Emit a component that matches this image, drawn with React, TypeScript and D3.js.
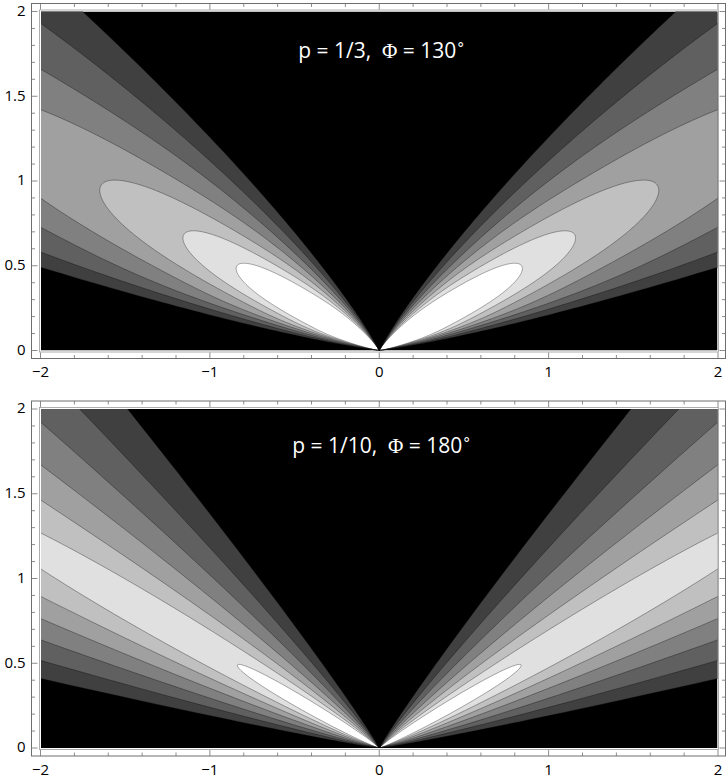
import React from "react";
import * as d3 from "d3";

const W = 727;
const H = 779;

// axes
const X_MAJOR = [-2, -1, 0, 1, 2];
const X_LABELS = ["\u22122", "\u22121", "0", "1", "2"];
const Y_MAJOR = [0, 0.5, 1, 1.5, 2];
const Y_LABELS = ["0", "0.5", "1", "1.5", "2"];
const X_MINOR_STEP = 0.2;
const Y_MINOR_STEP = 0.1;

// contour levels (lowest -> highest) and the band fill above each level
const LEVELS = [0.4, 0.5, 0.6, 0.7, 0.8, 0.9, 1.0];
const BAND_FILLS = ["#404040", "#606060", "#808080", "#a0a0a0", "#c0c0c0", "#e0e0e0", "#ffffff"];

// angular profile g(theta), theta measured from the horizontal axis (deg),
// read from where each contour meets the frame
const TOP_ANGLES = [0, 5, 10, 13.8, 16.2, 20, 24.2, 29.5, 35.4, 39.7, 44, 48.8, 55, 60, 65, 70, 80, 90];
const TOP_PROFILE = [0, 0.03, 0.3, 0.509, 0.638, 0.772, 0.909, 0.99, 0.944, 0.825, 0.703, 0.554, 0.36, 0.2, 0.05, 0, 0, 0];
const BOTTOM_ANGLES = [0, 5, 11.6, 14.5, 17.7, 20.9, 24.1, 27.9, 29.8, 32.4, 36.2, 39.9, 43.9, 48.5, 53.4, 60, 67, 75, 90];
const BOTTOM_PROFILE = [0.03, 0.2, 0.43, 0.538, 0.646, 0.755, 0.865, 0.977, 0.996, 0.981, 0.876, 0.77, 0.664, 0.552, 0.438, 0.29, 0.13, 0, 0];

// panel parameters
const P_VALUES = [1 / 3, 1 / 10];
const P_LABELS = ["1/3", "1/10"];
const PHI_LABELS = ["130", "180"];
const PANEL_OFFSETS = [0, 397.5];
const X_LABEL_BASELINES = [377.3, 775];

function naturalSpline(xs: number[], ys: number[]) {
  const n = xs.length;
  const a = ys.slice();
  const h: number[] = [];
  for (let i = 0; i < n - 1; i++) h.push(xs[i + 1] - xs[i]);
  const alpha = new Array(n).fill(0);
  for (let i = 1; i < n - 1; i++) {
    alpha[i] = (3 / h[i]) * (a[i + 1] - a[i]) - (3 / h[i - 1]) * (a[i] - a[i - 1]);
  }
  const l = new Array(n).fill(0);
  const mu = new Array(n).fill(0);
  const z = new Array(n).fill(0);
  l[0] = 1;
  for (let i = 1; i < n - 1; i++) {
    l[i] = 2 * (xs[i + 1] - xs[i - 1]) - h[i - 1] * mu[i - 1];
    mu[i] = h[i] / l[i];
    z[i] = (alpha[i] - h[i - 1] * z[i - 1]) / l[i];
  }
  l[n - 1] = 1;
  const c = new Array(n).fill(0);
  const b = new Array(n - 1).fill(0);
  const d = new Array(n - 1).fill(0);
  for (let j = n - 2; j >= 0; j--) {
    c[j] = z[j] - mu[j] * c[j + 1];
    b[j] = (a[j + 1] - a[j]) / h[j] - (h[j] * (c[j + 1] + 2 * c[j])) / 3;
    d[j] = (c[j + 1] - c[j]) / (3 * h[j]);
  }
  return (x: number) => {
    if (x <= xs[0]) return Math.max(0, ys[0]);
    if (x >= xs[n - 1]) return Math.max(0, ys[n - 1]);
    const j = Math.min(n - 2, d3.bisectRight(xs, x) - 1);
    const t = x - xs[j];
    return Math.max(0, a[j] + b[j] * t + c[j] * t * t + d[j] * t * t * t);
  };
}

function lobePoints(level: number, p: number, g: (t: number) => number): [number, number][] {
  const pts: [number, number][] = [[0, 0]];
  for (let k = 0; k <= 1800; k++) {
    const phi = k / 10;
    const theta = phi <= 90 ? phi : 180 - phi;
    const gv = g(theta);
    const r = gv > 0 ? Math.min(4, Math.pow(gv / level, 1 / p)) : 0;
    const a = (phi * Math.PI) / 180;
    pts.push([r * Math.cos(a), r * Math.sin(a)]);
  }
  return pts;
}

function Panel({ idx }: { idx: number }) {
  const dy = PANEL_OFFSETS[idx];
  const p = P_VALUES[idx];
  const g =
    idx === 0 ? naturalSpline(TOP_ANGLES, TOP_PROFILE) : naturalSpline(BOTTOM_ANGLES, BOTTOM_PROFILE);

  const xScale = d3.scaleLinear().domain([-2, 2]).range([40.5, 718]);
  const yScale = d3.scaleLinear().domain([0, 2]).range([350.5 + dy, 11.5 + dy]);
  const line = d3
    .line<[number, number]>()
    .x((d) => xScale(d[0]))
    .y((d) => yScale(d[1]));

  const lobes = LEVELS.map((c) => line(lobePoints(c, p, g)) || "");

  const fillX0 = 41;
  const fillX1 = 717.5;
  const fillY0 = 11.5 + dy;
  const fillY1 = 350.5 + dy;

  const outer = { x0: 31.5, x1: 725.5, y0: 3.5 + dy, y1: 358.5 + dy };
  const clipId = `clip-${idx}`;

  const xMinor = d3.range(-2, 2.0001, X_MINOR_STEP).map((v) => Math.round(v * 10) / 10);
  const yMinor = d3.range(0, 2.0001, Y_MINOR_STEP).map((v) => Math.round(v * 10) / 10);
  const isXMajor = (v: number) => X_MAJOR.some((m) => Math.abs(m - v) < 1e-6);
  const isYMajor = (v: number) => Y_MAJOR.some((m) => Math.abs(m - v) < 1e-6);

  const frameColor = "#6e6e6e";
  const titleX = xScale(0) + 2.5;
  const titleY = dy + (idx === 0 ? 58.3 : 55.8);

  const yLabelBaseline = (v: number) => {
    const base = yScale(v) - 1 + 5.3;
    return Math.max(base, 16);
  };

  return (
    <g>
      <defs>
        <clipPath id={clipId}>
          <rect x={fillX0} y={fillY0} width={fillX1 - fillX0} height={fillY1 - fillY0} />
        </clipPath>
      </defs>
      <g clipPath={`url(#${clipId})`}>
        <rect x={fillX0} y={fillY0} width={fillX1 - fillX0} height={fillY1 - fillY0} fill="#000" />
        {lobes.map((d, i) => (
          <path key={`f${i}`} d={d} fill={BAND_FILLS[i]} stroke="none" />
        ))}
        {lobes.map((d, i) => (
          <path key={`s${i}`} d={d} fill="none" stroke="#000" strokeOpacity={0.55} strokeWidth={0.6} />
        ))}
      </g>
      {/* inner plot border */}
      <rect x={39.5} y={10 + dy} width={679} height={342} fill="none" stroke="#9a9a9a" strokeWidth={0.8} />
      {/* outer frame */}
      <rect
        x={outer.x0}
        y={outer.y0}
        width={outer.x1 - outer.x0}
        height={outer.y1 - outer.y0}
        fill="none"
        stroke={frameColor}
        strokeWidth={1}
      />
      {xMinor.map((v) => {
        const len = isXMajor(v) ? 6 : 3.5;
        const x = xScale(v);
        return (
          <g key={`xt${v}`} stroke={frameColor} strokeWidth={0.8}>
            <line x1={x} x2={x} y1={outer.y1} y2={outer.y1 - len} />
            <line x1={x} x2={x} y1={outer.y0} y2={outer.y0 + len} />
          </g>
        );
      })}
      {yMinor.map((v) => {
        const len = isYMajor(v) ? 6 : 3.5;
        const y = yScale(v);
        return (
          <g key={`yt${v}`} stroke={frameColor} strokeWidth={0.8}>
            <line x1={outer.x0} x2={outer.x0 + len} y1={y} y2={y} />
            <line x1={outer.x1} x2={outer.x1 - len} y1={y} y2={y} />
          </g>
        );
      })}
      {X_MAJOR.map((v, i) => (
        <text
          key={`xl${v}`}
          x={xScale(v)}
          y={X_LABEL_BASELINES[idx]}
          textAnchor="middle"
          fontFamily="'Open Sans', 'Noto Sans', sans-serif"
          fontSize={15}
          fill="#000"
        >
          {X_LABELS[i]}
        </text>
      ))}
      {Y_MAJOR.map((v, i) => (
        <text
          key={`yl${v}`}
          x={25.5}
          y={yLabelBaseline(v)}
          textAnchor="end"
          fontFamily="'Open Sans', 'Noto Sans', sans-serif"
          fontSize={15}
          fill="#000"
        >
          {Y_LABELS[i]}
        </text>
      ))}
      <text
        x={titleX}
        y={titleY}
        textAnchor="middle"
        fontFamily="'Open Sans', 'Noto Sans', sans-serif"
        fontSize={21}
        fill="#fff"
        xmlSpace="preserve"
      >
        <tspan>{`p = ${P_LABELS[idx]},  `}</tspan>
        <tspan fontFamily="'Liberation Serif', 'DejaVu Serif', serif">{"\u03A6"}</tspan>
        <tspan>{` = ${PHI_LABELS[idx]}`}</tspan>
        <tspan dy={-9} fontSize={15}>{"\u2218"}</tspan>
      </text>
    </g>
  );
}

export default function App() {
  return (
    <svg
      width={W}
      height={H}
      viewBox={`0 0 ${W} ${H}`}
      style={{ position: "absolute", left: 0, top: 0, display: "block", background: "#fff" }}
    >
      <rect x={0} y={0} width={W} height={H} fill="#fff" />
      <Panel idx={0} />
      <Panel idx={1} />
    </svg>
  );
}
